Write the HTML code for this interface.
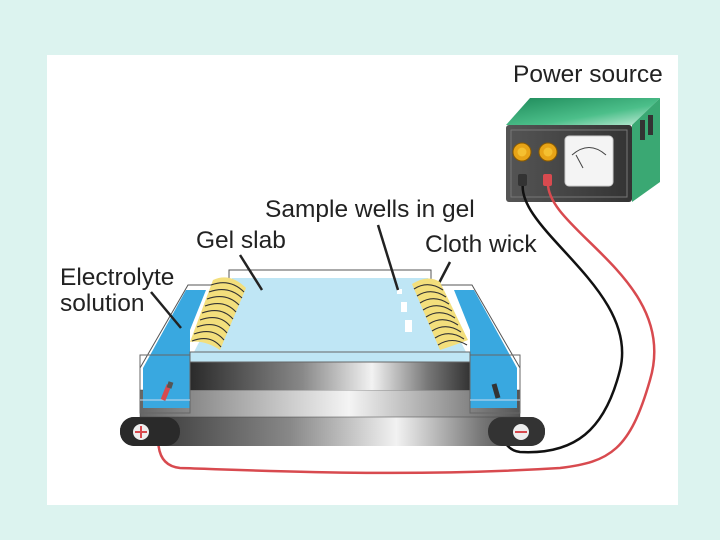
<!DOCTYPE html>
<html><head><style>
body{margin:0;background:#dcf3ef;}
svg{display:block}
text{font-family:"Liberation Sans",sans-serif;fill:#222}
</style></head><body>
<svg width="720" height="540" viewBox="0 0 720 540">
<defs>
<linearGradient id="metal" x1="0" x2="1" y1="0" y2="0">
<stop offset="0" stop-color="#2a2a2a"/><stop offset="0.4" stop-color="#888"/><stop offset="0.65" stop-color="#f2f2f2"/><stop offset="0.85" stop-color="#777"/><stop offset="1" stop-color="#333"/></linearGradient>
<linearGradient id="metal2" x1="0" x2="1" y1="0" y2="0">
<stop offset="0" stop-color="#666"/><stop offset="0.55" stop-color="#f4f4f4"/><stop offset="1" stop-color="#555"/></linearGradient>
<linearGradient id="green" x1="0" x2="1" y1="0" y2="1">
<stop offset="0" stop-color="#1e8a5a"/><stop offset="0.6" stop-color="#4cbf8a"/><stop offset="1" stop-color="#c8eedc"/></linearGradient>
<linearGradient id="front" x1="0" x2="1"><stop offset="0" stop-color="#555"/><stop offset="1" stop-color="#333"/></linearGradient>
</defs>
<rect x="47" y="55" width="631" height="450" fill="#fff"/>
<text x="513" y="82" font-size="24.5">Power source</text>
<text x="265" y="217" font-size="24.5">Sample wells in gel</text>
<text x="196" y="248" font-size="24.5">Gel slab</text>
<text x="425" y="252" font-size="24.5">Cloth wick</text>
<text x="60" y="285" font-size="24.5">Electrolyte</text>
<text x="60" y="311" font-size="24.5">solution</text>
<!-- power supply -->
<polygon points="506,125 530,98 660,98 632,125" fill="url(#green)"/>
<polygon points="632,125 660,98 660,182 632,202" fill="#3aa873"/>
<rect x="640" y="120" width="5" height="20" fill="#333"/><rect x="648" y="115" width="5" height="20" fill="#333"/>
<rect x="506" y="125" width="126" height="77" fill="url(#front)" rx="3"/>
<rect x="511" y="130" width="116" height="67" fill="none" stroke="#777" stroke-width="1"/>
<circle cx="522" cy="152" r="9" fill="#e8a417" stroke="#8a5a00"/><circle cx="522" cy="152" r="4.5" fill="#f5c030"/>
<circle cx="548" cy="152" r="9" fill="#e8a417" stroke="#8a5a00"/><circle cx="548" cy="152" r="4.5" fill="#f5c030"/>
<rect x="565" y="136" width="48" height="50" rx="4" fill="#f4f4f4" stroke="#ccc"/>
<path d="M572 155 Q589 140 606 155" stroke="#444" fill="none"/>
<line x1="583" y1="168" x2="576" y2="155" stroke="#444"/>
<!-- wires -->
<path d="M523 182 C515 230 640 290 620 370 C605 430 575 455 520 452 C500 450 495 420 498 398" stroke="#111" stroke-width="2.5" fill="none"/>
<path d="M548 182 C545 230 680 280 650 380 C630 450 610 462 560 468 C400 478 250 470 180 468 C150 465 158 430 163 400" stroke="#d84a4f" stroke-width="2.5" fill="none"/>
<rect x="518" y="174" width="9" height="12" rx="2" fill="#333"/>
<rect x="543" y="174" width="9" height="12" rx="2" fill="#d84a4f"/>
<!-- base bar -->
<rect x="120" y="417" width="425" height="29" rx="14" fill="url(#metal)"/>
<rect x="120" y="417" width="60" height="29" rx="14" fill="#2a2a2a"/>
<rect x="488" y="417" width="57" height="29" rx="14" fill="#333"/>
<circle cx="141" cy="432" r="8" fill="#eee"/><rect x="135" y="431" width="12" height="2" fill="#d84a4f"/><rect x="140" y="426" width="2" height="12" fill="#d84a4f"/>
<circle cx="521" cy="432" r="8" fill="#eee"/><rect x="515" y="431" width="12" height="2" fill="#d84a4f"/>
<!-- platform -->
<rect x="140" y="390" width="380" height="27" fill="url(#metal2)" stroke="#444" stroke-width="0.5"/>
<rect x="190" y="362" width="280" height="28" fill="url(#metal)"/>
<!-- troughs -->
<polygon points="143,408 143,368 186,290 206,290 190,330 190,408" fill="#39a8e0"/>
<polygon points="517,408 517,368 474,290 454,290 470,330 470,408" fill="#39a8e0"/>
<g stroke="#555" fill="none" stroke-width="1">
<polyline points="140,368 188,285 230,285"/>
<polyline points="520,368 472,285 430,285"/>
<rect x="140" y="355" width="50" height="58" stroke="#666"/><rect x="470" y="355" width="50" height="58" stroke="#666"/>
<polyline points="229,285 229,270 431,270 431,285"/>
<line x1="140" y1="400" x2="190" y2="400" stroke="#cde"/><line x1="470" y1="400" x2="520" y2="400" stroke="#cde"/>
</g>
<!-- gel -->
<polygon points="232,278 428,278 466,352 194,352" fill="#bfe6f5"/>
<rect x="190" y="352" width="280" height="10" fill="#bfe6f5" stroke="#666" stroke-width="1"/>
<g fill="#fff"><rect x="397" y="289" width="5" height="5"/><rect x="401" y="302" width="6" height="10"/><rect x="405" y="320" width="7" height="12"/></g>
<!-- pointer lines -->
<g stroke="#222" stroke-width="2.5" fill="none">
<line x1="181" y1="328" x2="151" y2="292"/>
<line x1="262" y1="290" x2="240" y2="255"/>
<line x1="398" y1="290" x2="378" y2="225"/>
<line x1="438" y1="285" x2="450" y2="262"/>
</g>
<!-- wicks -->
<path d="M213 280 Q230 272 246 288 L220 350 Q205 340 190 342 Z" fill="#f3df7c"/>
<g stroke="#333" stroke-width="1.1" fill="none">
<path d="M211 285 Q230 278 244 292"/><path d="M209 292 Q228 285 242 298"/><path d="M207 299 Q226 292 239 305"/><path d="M205 306 Q224 299 236 312"/><path d="M202 313 Q221 306 233 319"/><path d="M200 320 Q219 313 230 326"/><path d="M197 327 Q216 320 227 333"/><path d="M194 334 Q213 327 224 340"/><path d="M192 341 Q210 334 221 347"/>
</g>
<path d="M412 284 Q428 274 440 282 L468 340 Q455 345 440 350 Z" fill="#f3df7c"/>
<g stroke="#333" stroke-width="1.1" fill="none">
<path d="M414 289 Q428 280 443 290"/><path d="M417 296 Q431 287 446 297"/><path d="M420 303 Q434 294 449 304"/><path d="M423 310 Q437 301 452 311"/><path d="M426 317 Q440 308 455 318"/><path d="M429 324 Q443 315 458 325"/><path d="M432 331 Q446 322 461 332"/><path d="M435 338 Q449 329 464 339"/><path d="M438 345 Q452 336 467 345"/>
</g>
<!-- electrodes -->
<line x1="163" y1="400" x2="169" y2="385" stroke="#d84a4f" stroke-width="5"/>
<line x1="169" y1="388" x2="171" y2="382" stroke="#555" stroke-width="5"/>
<line x1="498" y1="398" x2="494" y2="384" stroke="#333" stroke-width="5"/>
</svg>
</body></html>
